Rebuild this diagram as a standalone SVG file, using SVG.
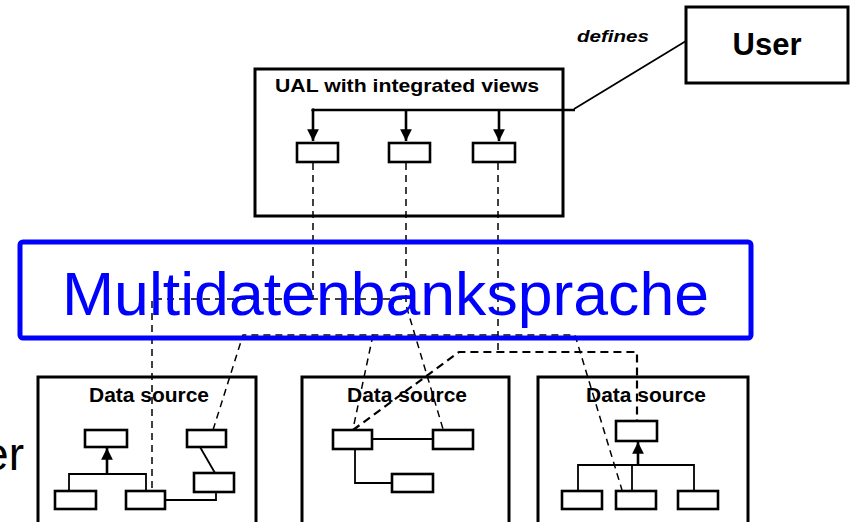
<svg xmlns="http://www.w3.org/2000/svg" width="852" height="522" viewBox="0 0 852 522">
  <style>
    .frame { fill: #fff; stroke: #000; stroke-width: 3; }
    .cell { fill: #fff; stroke: #000; stroke-width: 2.6; }
    .link { fill: none; stroke: #000; stroke-width: 1.8; }
    .bold { fill: none; stroke: #000; stroke-width: 2.6; }
    .dash { fill: none; stroke: #000; stroke-width: 1.5; stroke-dasharray: 7 5; }
    .dash2 { fill: none; stroke: #000; stroke-width: 2.2; stroke-dasharray: 8 5; }
    .title { font-family: "Liberation Sans", Arial, sans-serif; font-weight: bold; fill: #000; }
  </style>
  <defs>
    <marker id="tri" viewBox="0 0 10 10" refX="10" refY="5" markerWidth="4.5" markerHeight="4.5" orient="auto" markerUnits="strokeWidth">
      <path d="M0,0 L10,5 L0,10 Z" fill="#000"/>
    </marker>
  </defs>

  <rect width="852" height="522" fill="#fff"/>

  <!-- user -->
  <g id="user">
    <rect class="frame" x="686" y="7" width="162" height="76"/>
    <text class="title" x="767" y="55" font-size="31" text-anchor="middle">User</text>
  </g>

  <!-- UAL with integrated views -->
  <g id="ual">
    <rect class="frame" x="255" y="69" width="308" height="147"/>
    <text class="title" x="275" y="92" font-size="19" textLength="264" lengthAdjust="spacingAndGlyphs">UAL with integrated views</text>
    <rect class="cell" x="297" y="143" width="41" height="19"/>
    <rect class="cell" x="389" y="143" width="41" height="19"/>
    <rect class="cell" x="473" y="143" width="42" height="19"/>
  </g>

  <!-- data source 1 -->
  <g id="source1">
    <rect class="frame" x="38" y="377" width="218" height="160"/>
    <text class="title" x="149" y="402" font-size="20" text-anchor="middle" textLength="120" lengthAdjust="spacingAndGlyphs">Data source</text>
    <rect class="cell" x="85" y="430" width="42" height="17"/>
    <rect class="cell" x="187" y="430" width="39" height="17"/>
    <rect class="cell" x="194" y="473" width="40" height="19"/>
    <rect class="cell" x="55" y="491" width="41" height="18"/>
    <rect class="cell" x="126" y="491" width="39" height="18"/>
  </g>

  <!-- data source 2 -->
  <g id="source2">
    <rect class="frame" x="302" y="377" width="207" height="160"/>
    <text class="title" x="407" y="402" font-size="20" text-anchor="middle" textLength="120" lengthAdjust="spacingAndGlyphs">Data source</text>
    <rect class="cell" x="333" y="430" width="39" height="19"/>
    <rect class="cell" x="433" y="430" width="40" height="19"/>
    <rect class="cell" x="392" y="474" width="41" height="18"/>
  </g>

  <!-- data source 3 -->
  <g id="source3">
    <rect class="frame" x="538" y="377" width="210" height="160"/>
    <text class="title" x="646" y="402" font-size="20" text-anchor="middle" textLength="120" lengthAdjust="spacingAndGlyphs">Data source</text>
    <rect class="cell" x="616" y="421" width="41" height="20"/>
    <rect class="cell" x="562" y="491" width="40" height="18"/>
    <rect class="cell" x="616" y="491" width="40" height="18"/>
    <rect class="cell" x="678" y="491" width="40" height="18"/>
  </g>

  <!-- connectors -->
  <g id="connectors">
    <!-- user defines the views -->
    <path class="link" d="M686,41 L574,109"/>
    <path class="bold" d="M313,110 H575"/>
    <circle cx="313" cy="110" r="1.8" fill="#000"/>
    <path class="bold" d="M313,110 V141" marker-end="url(#tri)"/>
    <path class="bold" d="M406,110 V141" marker-end="url(#tri)"/>
    <path class="bold" d="M499,110 V141" marker-end="url(#tri)"/>

    <!-- view mappings -->
    <path class="dash" d="M313,163 V299"/>
    <path class="dash" d="M152,488 V299 H405"/>
    <path class="dash" d="M406,163 V305 L443,429"/>
    <path class="dash" d="M498,163 V352"/>
    <path class="dash2" d="M353,430 L459,352 H637 V421"/>
    <path class="dash" d="M213,430 L243,335 H575 L622,490"/>
    <path class="dash" d="M373,335 L353,429"/>

    <!-- source 1 structure -->
    <path class="link" d="M69,491 V474 H146 V491"/>
    <path class="bold" d="M107,474 V448" marker-end="url(#tri)"/>
    <path class="link" d="M200,447 L215,473"/>
    <path class="link" d="M165,500 H216 V492"/>

    <!-- source 2 structure -->
    <path class="link" d="M372,439 H433"/>
    <path class="link" d="M355,449 V483 H392"/>

    <!-- source 3 structure -->
    <path class="link" d="M578,491 V465 H694 V491"/>
    <path class="link" d="M632,465 V491"/>
    <path class="bold" d="M638,465 V442" marker-end="url(#tri)"/>
  </g>

  <!-- overlay banner -->
  <g id="banner">
    <rect x="20" y="242" width="731" height="96" rx="3" fill="none" stroke="#0000ff" stroke-width="5"/>
    <text x="62" y="315" font-family="Liberation Sans, Arial, sans-serif" font-size="62" fill="#0000ff" textLength="647" lengthAdjust="spacingAndGlyphs">Multidatenbanksprache</text>
  </g>

  <!-- trailing word fragment at the left edge -->
  <text x="24" y="470" font-family="Liberation Sans, Arial, sans-serif" font-size="46" text-anchor="end" fill="#000">er</text>

  <text x="577" y="42" font-family="Liberation Sans, Arial, sans-serif" font-size="17" font-weight="bold" font-style="italic" fill="#000" textLength="72" lengthAdjust="spacingAndGlyphs">defines</text>
</svg>
